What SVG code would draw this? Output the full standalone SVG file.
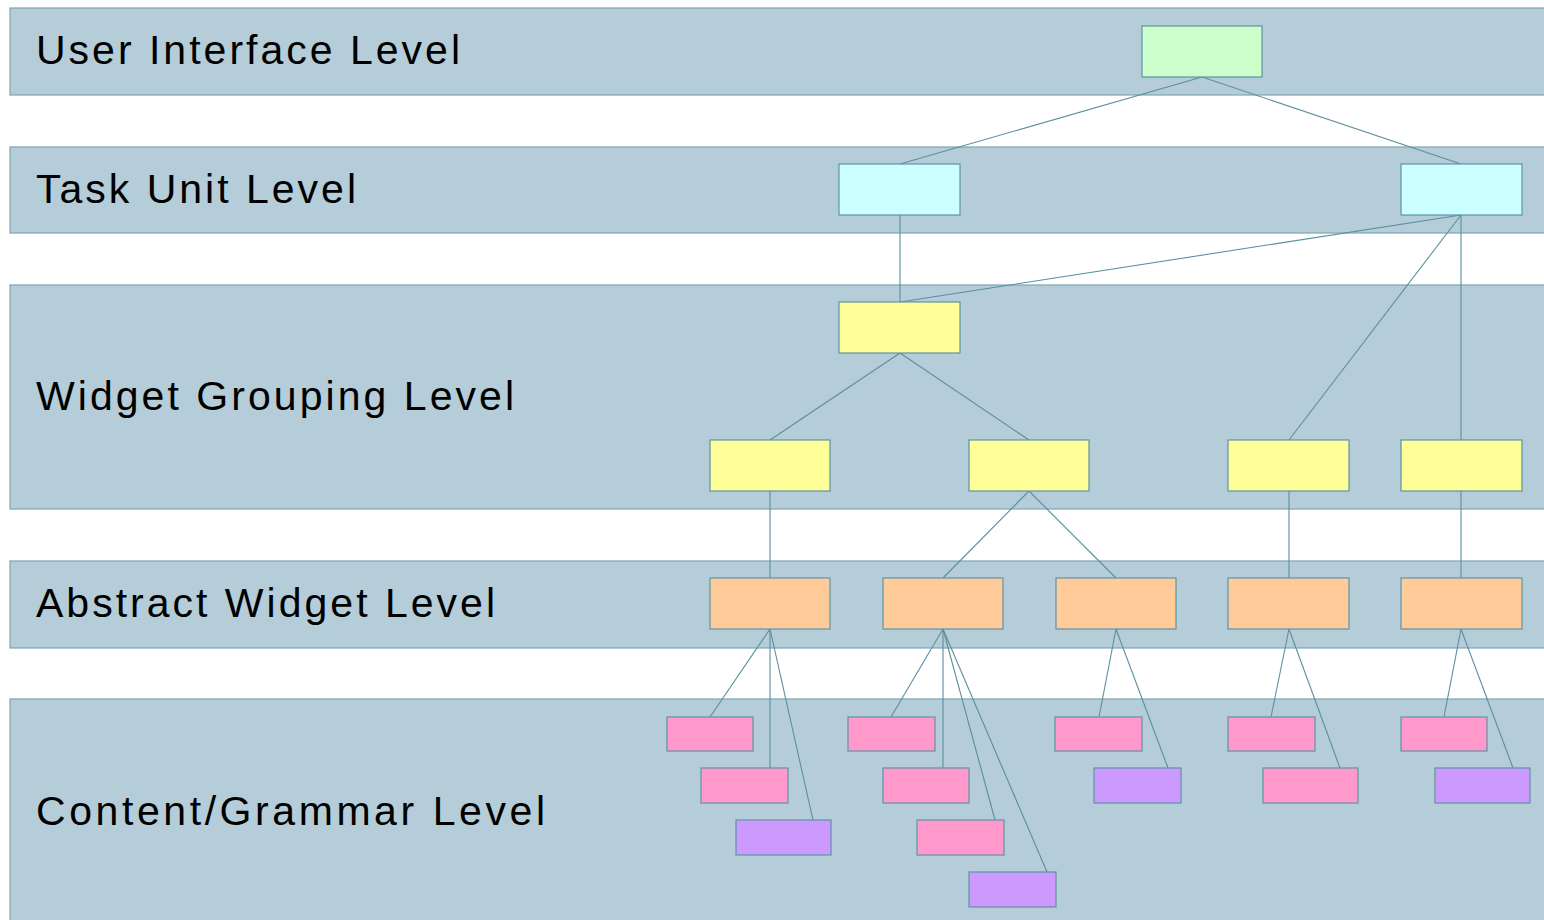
<svg xmlns="http://www.w3.org/2000/svg" width="1544" height="920" viewBox="0 0 1544 920">
<style>
.band{fill:#b4cdd8;stroke:#7fa4b4;stroke-width:1.2}
.lbl{font-family:"Liberation Sans",Arial,sans-serif;font-size:41px;fill:#000}
.n{stroke:#5f93a6;stroke-width:1.2}
.ui{fill:#ccffcc}.tk{fill:#ccffff}.wg{fill:#ffff99}.aw{fill:#ffcc99}.pk{fill:#ff99cc}.pu{fill:#cc99ff}
.c line{stroke:#5a8fa0;stroke-width:1.1}
</style>
<rect width="1544" height="920" fill="#fff"/>
<g id="bands">
<rect class="band" x="10" y="8" width="1545" height="87"/>
<rect class="band" x="10" y="147" width="1545" height="86"/>
<rect class="band" x="10" y="285" width="1545" height="224"/>
<rect class="band" x="10" y="561" width="1545" height="87"/>
<rect class="band" x="10" y="699" width="1545" height="230"/>
</g>
<g id="labels">
<text class="lbl" x="36" y="64" textLength="424" lengthAdjust="spacing">User Interface Level</text>
<text class="lbl" x="36" y="203" textLength="320" lengthAdjust="spacing">Task Unit Level</text>
<text class="lbl" x="36" y="410" textLength="478" lengthAdjust="spacing">Widget Grouping Level</text>
<text class="lbl" x="36" y="617" textLength="459" lengthAdjust="spacing">Abstract Widget Level</text>
<text class="lbl" x="36" y="825" textLength="509" lengthAdjust="spacing">Content/Grammar Level</text>
</g>
<g id="connectors" class="c">
<line x1="1202" y1="77" x2="900" y2="164"/>
<line x1="1202" y1="77" x2="1461" y2="164"/>
<line x1="900" y1="215" x2="900" y2="302"/>
<line x1="1461" y1="215" x2="900" y2="302"/>
<line x1="1461" y1="215" x2="1289" y2="440"/>
<line x1="1461" y1="215" x2="1461" y2="440"/>
<line x1="900" y1="353" x2="770" y2="440"/>
<line x1="900" y1="353" x2="1029" y2="440"/>
<line x1="770" y1="491" x2="770" y2="578"/>
<line x1="1029" y1="491" x2="943" y2="578"/>
<line x1="1029" y1="491" x2="1116" y2="578"/>
<line x1="1289" y1="491" x2="1289" y2="578"/>
<line x1="1461" y1="491" x2="1461" y2="578"/>
<line x1="770" y1="629" x2="710" y2="717"/>
<line x1="770" y1="629" x2="770" y2="768"/>
<line x1="770" y1="629" x2="813" y2="820"/>
<line x1="943" y1="629" x2="891" y2="717"/>
<line x1="943" y1="629" x2="943" y2="768"/>
<line x1="943" y1="629" x2="995" y2="820"/>
<line x1="943" y1="629" x2="1047" y2="872"/>
<line x1="1116" y1="629" x2="1099" y2="717"/>
<line x1="1116" y1="629" x2="1168" y2="768"/>
<line x1="1289" y1="629" x2="1271" y2="717"/>
<line x1="1289" y1="629" x2="1340" y2="768"/>
<line x1="1461" y1="629" x2="1444" y2="717"/>
<line x1="1461" y1="629" x2="1513" y2="768"/>
</g>
<g id="n-ui"><rect class="n ui" x="1142" y="26" width="120" height="51"/></g>
<g id="n-task1"><rect class="n tk" x="839" y="164" width="121" height="51"/></g>
<g id="n-task2"><rect class="n tk" x="1401" y="164" width="121" height="51"/></g>
<g id="n-wg0"><rect class="n wg" x="839" y="302" width="121" height="51"/></g>
<g id="n-wg1"><rect class="n wg" x="710" y="440" width="120" height="51"/></g>
<g id="n-wg2"><rect class="n wg" x="969" y="440" width="120" height="51"/></g>
<g id="n-wg3"><rect class="n wg" x="1228" y="440" width="121" height="51"/></g>
<g id="n-wg4"><rect class="n wg" x="1401" y="440" width="121" height="51"/></g>
<g id="n-aw1"><rect class="n aw" x="710" y="578" width="120" height="51"/></g>
<g id="n-aw2"><rect class="n aw" x="883" y="578" width="120" height="51"/></g>
<g id="n-aw3"><rect class="n aw" x="1056" y="578" width="120" height="51"/></g>
<g id="n-aw4"><rect class="n aw" x="1228" y="578" width="121" height="51"/></g>
<g id="n-aw5"><rect class="n aw" x="1401" y="578" width="121" height="51"/></g>
<g id="n-c1"><rect class="n pk" x="667" y="717" width="86" height="34"/></g>
<g id="n-c2"><rect class="n pk" x="701" y="768" width="87" height="35"/></g>
<g id="n-c3"><rect class="n pu" x="736" y="820" width="95" height="35"/></g>
<g id="n-c4"><rect class="n pk" x="848" y="717" width="87" height="34"/></g>
<g id="n-c5"><rect class="n pk" x="883" y="768" width="86" height="35"/></g>
<g id="n-c6"><rect class="n pk" x="917" y="820" width="87" height="35"/></g>
<g id="n-c7"><rect class="n pu" x="969" y="872" width="87" height="35"/></g>
<g id="n-c8"><rect class="n pk" x="1055" y="717" width="87" height="34"/></g>
<g id="n-c9"><rect class="n pu" x="1094" y="768" width="87" height="35"/></g>
<g id="n-c10"><rect class="n pk" x="1228" y="717" width="87" height="34"/></g>
<g id="n-c11"><rect class="n pk" x="1263" y="768" width="95" height="35"/></g>
<g id="n-c12"><rect class="n pk" x="1401" y="717" width="86" height="34"/></g>
<g id="n-c13"><rect class="n pu" x="1435" y="768" width="95" height="35"/></g>
</svg>
